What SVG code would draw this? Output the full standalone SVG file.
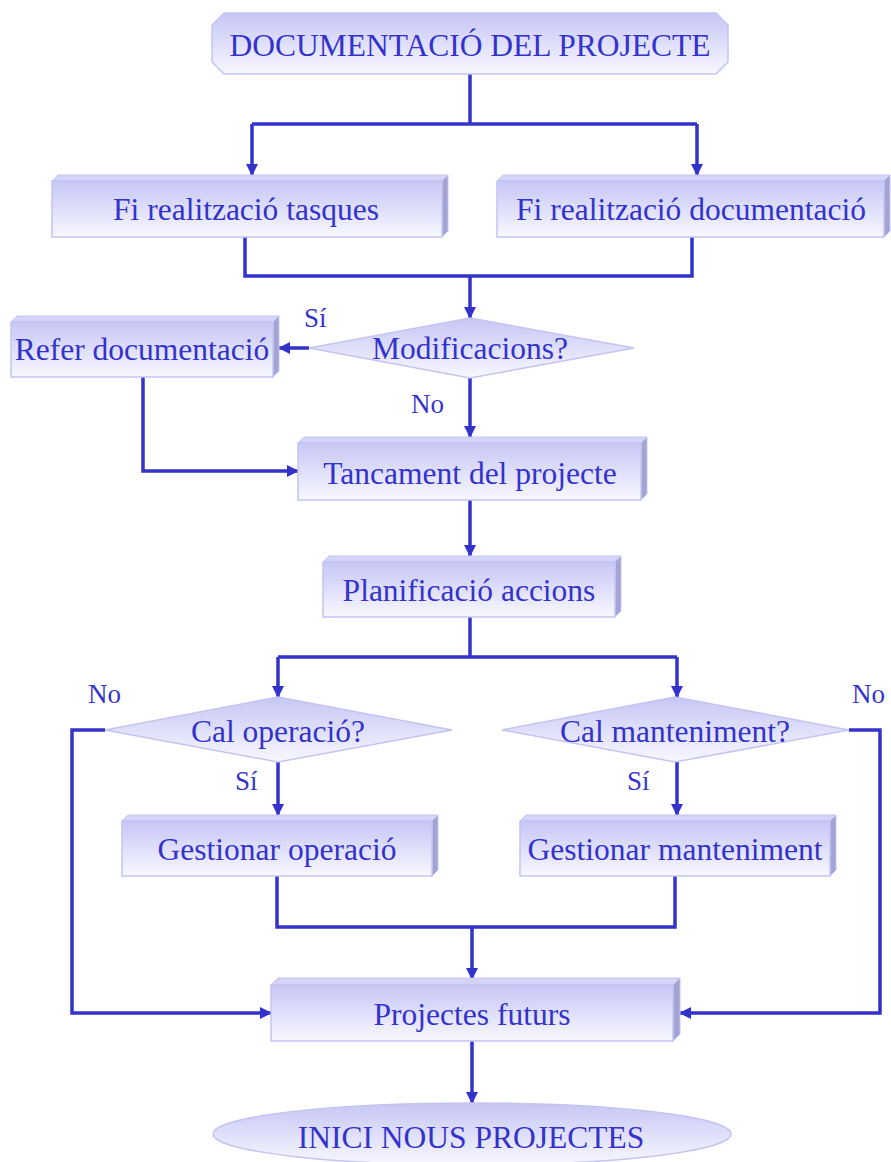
<svg xmlns="http://www.w3.org/2000/svg" width="891" height="1162" viewBox="0 0 891 1162">
  <defs>
    <linearGradient id="faceGrad" x1="0" y1="0" x2="0" y2="1">
      <stop offset="0" stop-color="#c6c6f6"/>
      <stop offset="1" stop-color="#f8f8ff"/>
    </linearGradient>
    <marker id="arrow" viewBox="0 0 12 12" refX="11" refY="6" markerWidth="12" markerHeight="12" markerUnits="userSpaceOnUse" orient="auto">
      <path d="M0,0 L12,6 L0,12 z" fill="#3333cc"/>
    </marker>
  </defs>
  <style>
    .face { fill: url(#faceGrad); stroke: #c4c4f2; stroke-width: 1.5; }
    .top { fill: #d4d4f8; stroke: #c4c4f2; stroke-width: 1; }
    .side { fill: #a4a4d4; stroke: #c4c4f2; stroke-width: 1; }
    .lbl { font-family: "Liberation Serif", "Times New Roman", serif; font-size: 31.5px; fill: #3333cc; text-anchor: middle; }
    .small { font-family: "Liberation Serif", "Times New Roman", serif; font-size: 27px; fill: #3333cc; }
    .wire { fill: none; stroke: #3333cc; stroke-width: 3.5; }
    .wire-arrow { fill: none; stroke: #3333cc; stroke-width: 3.5; marker-end: url(#arrow); }
  </style>
  <rect width="891" height="1162" fill="#ffffff"/>

  <!-- connectors -->
  <g id="connectors">
    <path class="wire" d="M470,74 V124 M252,124 H697"/>
    <path class="wire-arrow" d="M252,124 V175"/>
    <path class="wire-arrow" d="M697,124 V175"/>
    <path class="wire" d="M245,237 V276 H692 V237"/>
    <path class="wire-arrow" d="M470,276 V318"/>
    <path class="wire-arrow" d="M309,348 H279"/>
    <path class="wire-arrow" d="M470,378 V437"/>
    <path class="wire-arrow" d="M143,377 V471 H298"/>
    <path class="wire-arrow" d="M470,500 V556"/>
    <path class="wire" d="M470,617 V657 M278,657 H677"/>
    <path class="wire-arrow" d="M278,657 V697"/>
    <path class="wire-arrow" d="M677,657 V697"/>
    <path class="wire-arrow" d="M278,762 V815"/>
    <path class="wire-arrow" d="M677,762 V815"/>
    <path class="wire-arrow" d="M105,730 H72 V1013 H271"/>
    <path class="wire-arrow" d="M849,730 H880 V1013 H680"/>
    <path class="wire" d="M277,876 V927 H675 V876"/>
    <path class="wire-arrow" d="M472,927 V979"/>
    <path class="wire-arrow" d="M472,1041 V1103"/>
  </g>

  <!-- start terminal -->
  <g id="n-doc">
    <polygon class="face" points="224,13 716,13 728,25 728,62 716,74 224,74 212,62 212,25"/>
    <text class="lbl" x="470" y="56">DOCUMENTACIÓ DEL PROJECTE</text>
  </g>

  <g id="n-fi-tasques">
    <polygon class="top" points="52,181 58,175 448,175 442,181"/>
    <polygon class="side" points="442,181 448,175 448,231 442,237"/>
    <rect class="face" x="52" y="181" width="390" height="56"/>
    <text class="lbl" x="246" y="220">Fi realització tasques</text>
  </g>

  <g id="n-fi-doc">
    <polygon class="top" points="497,181 503,175 890,175 884,181"/>
    <polygon class="side" points="884,181 890,175 890,231 884,237"/>
    <rect class="face" x="497" y="181" width="387" height="56"/>
    <text class="lbl" x="691" y="220">Fi realització documentació</text>
  </g>

  <g id="n-modificacions">
    <polygon class="face" points="309,348 470,318 634,348 470,378"/>
    <text class="lbl" x="470" y="359">Modificacions?</text>
  </g>

  <g id="n-refer">
    <polygon class="top" points="11,322 17,316 279,316 273,322"/>
    <polygon class="side" points="273,322 279,316 279,371 273,377"/>
    <rect class="face" x="11" y="322" width="262" height="55"/>
    <text class="lbl" x="142" y="360">Refer documentació</text>
  </g>

  <g id="n-tancament">
    <polygon class="top" points="298,443 304,437 647,437 641,443"/>
    <polygon class="side" points="641,443 647,437 647,494 641,500"/>
    <rect class="face" x="298" y="443" width="343" height="57"/>
    <text class="lbl" x="470" y="484">Tancament del projecte</text>
  </g>

  <g id="n-planificacio">
    <polygon class="top" points="323,562 329,556 621,556 615,562"/>
    <polygon class="side" points="615,562 621,556 621,611 615,617"/>
    <rect class="face" x="323" y="562" width="292" height="55"/>
    <text class="lbl" x="469" y="601">Planificació accions</text>
  </g>

  <g id="n-cal-operacio">
    <polygon class="face" points="105,730 278,697 452,730 278,762"/>
    <text class="lbl" x="278" y="742">Cal operació?</text>
  </g>

  <g id="n-cal-manteniment">
    <polygon class="face" points="502,730 675,697 849,730 675,762"/>
    <text class="lbl" x="675" y="742">Cal manteniment?</text>
  </g>

  <g id="n-gest-operacio">
    <polygon class="top" points="122,821 128,815 438,815 432,821"/>
    <polygon class="side" points="432,821 438,815 438,870 432,876"/>
    <rect class="face" x="122" y="821" width="310" height="55"/>
    <text class="lbl" x="277" y="860">Gestionar operació</text>
  </g>

  <g id="n-gest-manteniment">
    <polygon class="top" points="520,821 526,815 836,815 830,821"/>
    <polygon class="side" points="830,821 836,815 836,870 830,876"/>
    <rect class="face" x="520" y="821" width="310" height="55"/>
    <text class="lbl" x="675" y="860">Gestionar manteniment</text>
  </g>

  <g id="n-projectes-futurs">
    <polygon class="top" points="271,985 278,978 680,978 673,985"/>
    <polygon class="side" points="673,985 680,978 680,1034 673,1041"/>
    <rect class="face" x="271" y="985" width="402" height="56"/>
    <text class="lbl" x="472" y="1025">Projectes futurs</text>
  </g>

  <!-- end terminal -->
  <g id="n-inici">
    <ellipse class="face" cx="472" cy="1134" rx="259" ry="31"/>
    <text class="lbl" x="471" y="1148">INICI NOUS PROJECTES</text>
  </g>

  <!-- branch labels -->
  <g id="labels">
    <text class="small" x="304" y="327">Sí</text>
    <text class="small" x="411" y="413">No</text>
    <text class="small" x="88" y="703">No</text>
    <text class="small" x="852" y="703">No</text>
    <text class="small" x="235" y="790">Sí</text>
    <text class="small" x="627" y="790">Sí</text>
  </g>
</svg>
